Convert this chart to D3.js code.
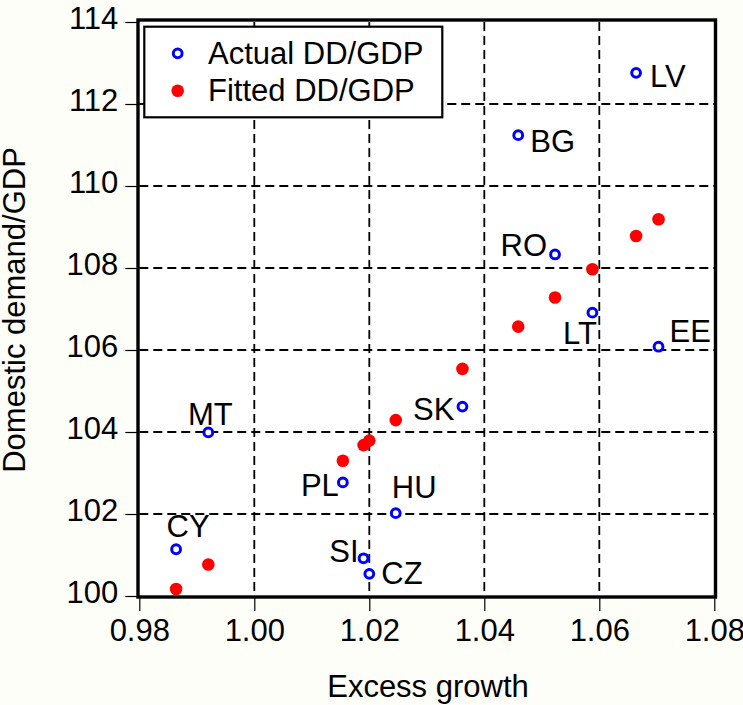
<!DOCTYPE html>
<html>
<head>
<meta charset="utf-8">
<script src="https://cdn.jsdelivr.net/npm/d3@7"></script>
<style>
  html, body { margin: 0; padding: 0; background: #fefef8; }
  svg { display: block; }
  text { font-family: "Liberation Sans", Arial, sans-serif; fill: #000; }
</style>
</head>
<body>
<svg id="chart" width="743" height="705"></svg>
<script>
// ---- data ----
const countries    = ["LV", "BG", "RO", "LT", "EE", "SK", "HU", "PL", "SI", "CZ", "MT", "CY"];
const excessGrowth = [1.0664, 1.0459, 1.0523, 1.0588, 1.0703, 1.0362, 1.0246, 1.0154, 1.0190, 1.0200, 0.9920, 0.9864];
const actualDD     = [112.76, 111.24, 108.33, 106.91, 106.08, 104.62, 102.02, 102.77, 100.92, 100.54, 103.99, 101.14];
const fittedDD     = [108.78, 106.57, 107.28, 107.97, 109.19, 105.54, 104.29, 103.30, 103.68, 103.79, 100.77, 100.17];
const xTicks = [0.98, 1.00, 1.02, 1.04, 1.06, 1.08];
const yTicks = [100, 102, 104, 106, 108, 110, 112, 114];
const seriesNames = ["Actual DD/GDP", "Fitted DD/GDP"];
const xTitle = "Excess growth";
const yTitle = "Domestic demand/GDP";

// ---- label placement (layout) ----
const labelPlace = {
  LV: ["start", 14, 14], BG: ["start", 12, 17], RO: ["end", -8, 2],
  LT: ["end", 4.5, 31], EE: ["start", 11, -5], SK: ["end", -8, 13],
  HU: ["start", -4, -15], PL: ["end", -4, 14], SI: ["end", -5, 3.5],
  CZ: ["start", 12, 10], MT: ["middle", 2, -7], CY: ["middle", 12, -12.6]
};

const svg = d3.select("#chart");
const FS = 31;
const x = d3.scaleLinear().domain([0.98, 1.08]).range([139.3, 714.3]);
const y = d3.scaleLinear().domain([100, 114]).range([596, 22]);

// plot background
svg.append("rect").attr("x", x(0.98)).attr("y", y(114)).attr("width", x(1.08) - x(0.98))
  .attr("height", y(100) - y(114)).attr("fill", "#ffffff");

// grid
const grid = svg.append("g").attr("stroke", "#000").attr("stroke-width", 1.8).attr("stroke-dasharray", "9,5");
grid.selectAll("line.v").data(xTicks.slice(1, -1)).join("line")
  .attr("x1", d => x(d)).attr("x2", d => x(d)).attr("y1", y(114)).attr("y2", y(100));
grid.selectAll("line.h").data(yTicks.slice(1, -1)).join("line")
  .attr("x1", x(0.98)).attr("x2", x(1.08)).attr("y1", d => y(d)).attr("y2", d => y(d));

// axes
const xAxis = svg.append("g").attr("transform", `translate(0,${y(100) + 1})`)
  .call(d3.axisBottom(x).tickValues(xTicks).tickFormat(d3.format(".2f")).tickSizeOuter(0).tickSizeInner(14).tickPadding(12));
const yAxis = svg.append("g").attr("transform", `translate(${x(0.98) - 2},0)`)
  .call(d3.axisLeft(y).tickValues(yTicks).tickFormat(d3.format("d")).tickSizeOuter(0).tickSizeInner(12).tickPadding(7));
[xAxis, yAxis].forEach(a => {
  a.select(".domain").remove();
  a.selectAll(".tick line").attr("stroke", "#000").attr("stroke-width", 1.2);
  a.selectAll(".tick text").attr("font-size", FS).attr("font-family", "Liberation Sans, Arial, sans-serif").attr("fill", "#000");
});
xAxis.selectAll(".tick text").attr("dy", null).attr("y", 44);
yAxis.selectAll(".tick text").attr("dy", null).attr("y", 6.5);

// frame
svg.append("rect").attr("x", 138).attr("y", 20).attr("width", 715.5 - 138).attr("height", 597 - 20)
  .attr("fill", "none").attr("stroke", "#000").attr("stroke-width", 3.4);

// axis titles
svg.append("text").attr("x", 428).attr("y", 697).attr("text-anchor", "middle").attr("font-size", FS).text(xTitle);
svg.append("text").attr("transform", "translate(25,310) rotate(-90)").attr("text-anchor", "middle")
  .attr("font-size", FS).text(yTitle);

// points
const pts = countries.map((c, i) => ({ c, x: excessGrowth[i], a: actualDD[i], f: fittedDD[i] }));
svg.append("g").selectAll("circle").data(pts).join("circle")
  .attr("cx", d => x(d.x)).attr("cy", d => y(d.f)).attr("r", 6.3).attr("fill", "#ff0000");
svg.append("g").selectAll("circle").data(pts).join("circle")
  .attr("cx", d => x(d.x)).attr("cy", d => y(d.a)).attr("r", 4.4)
  .attr("fill", "#ffffff").attr("stroke", "#0000ff").attr("stroke-width", 3);

// labels
svg.append("g").selectAll("text").data(pts).join("text")
  .attr("x", d => x(d.x) + labelPlace[d.c][1]).attr("y", d => y(d.a) + labelPlace[d.c][2])
  .attr("text-anchor", d => labelPlace[d.c][0]).attr("font-size", FS).text(d => d.c);

// legend
const lg = svg.append("g");
lg.append("rect").attr("x", 144.3).attr("y", 26.7).attr("width", 442.3 - 144.3).attr("height", 117.3 - 26.7)
  .attr("fill", "#ffffff").attr("stroke", "#000").attr("stroke-width", 2.2);
lg.append("circle").attr("cx", 177.7).attr("cy", 53.3).attr("r", 4.4).attr("fill", "#fff")
  .attr("stroke", "#0000ff").attr("stroke-width", 3);
lg.append("circle").attr("cx", 177.7).attr("cy", 90.7).attr("r", 6.3).attr("fill", "#ff0000");
lg.selectAll("text").data(seriesNames).join("text")
  .attr("x", 208).attr("y", (d, i) => 64 + i * 36.7).attr("font-size", FS).text(d => d);
</script>
</body>
</html>
